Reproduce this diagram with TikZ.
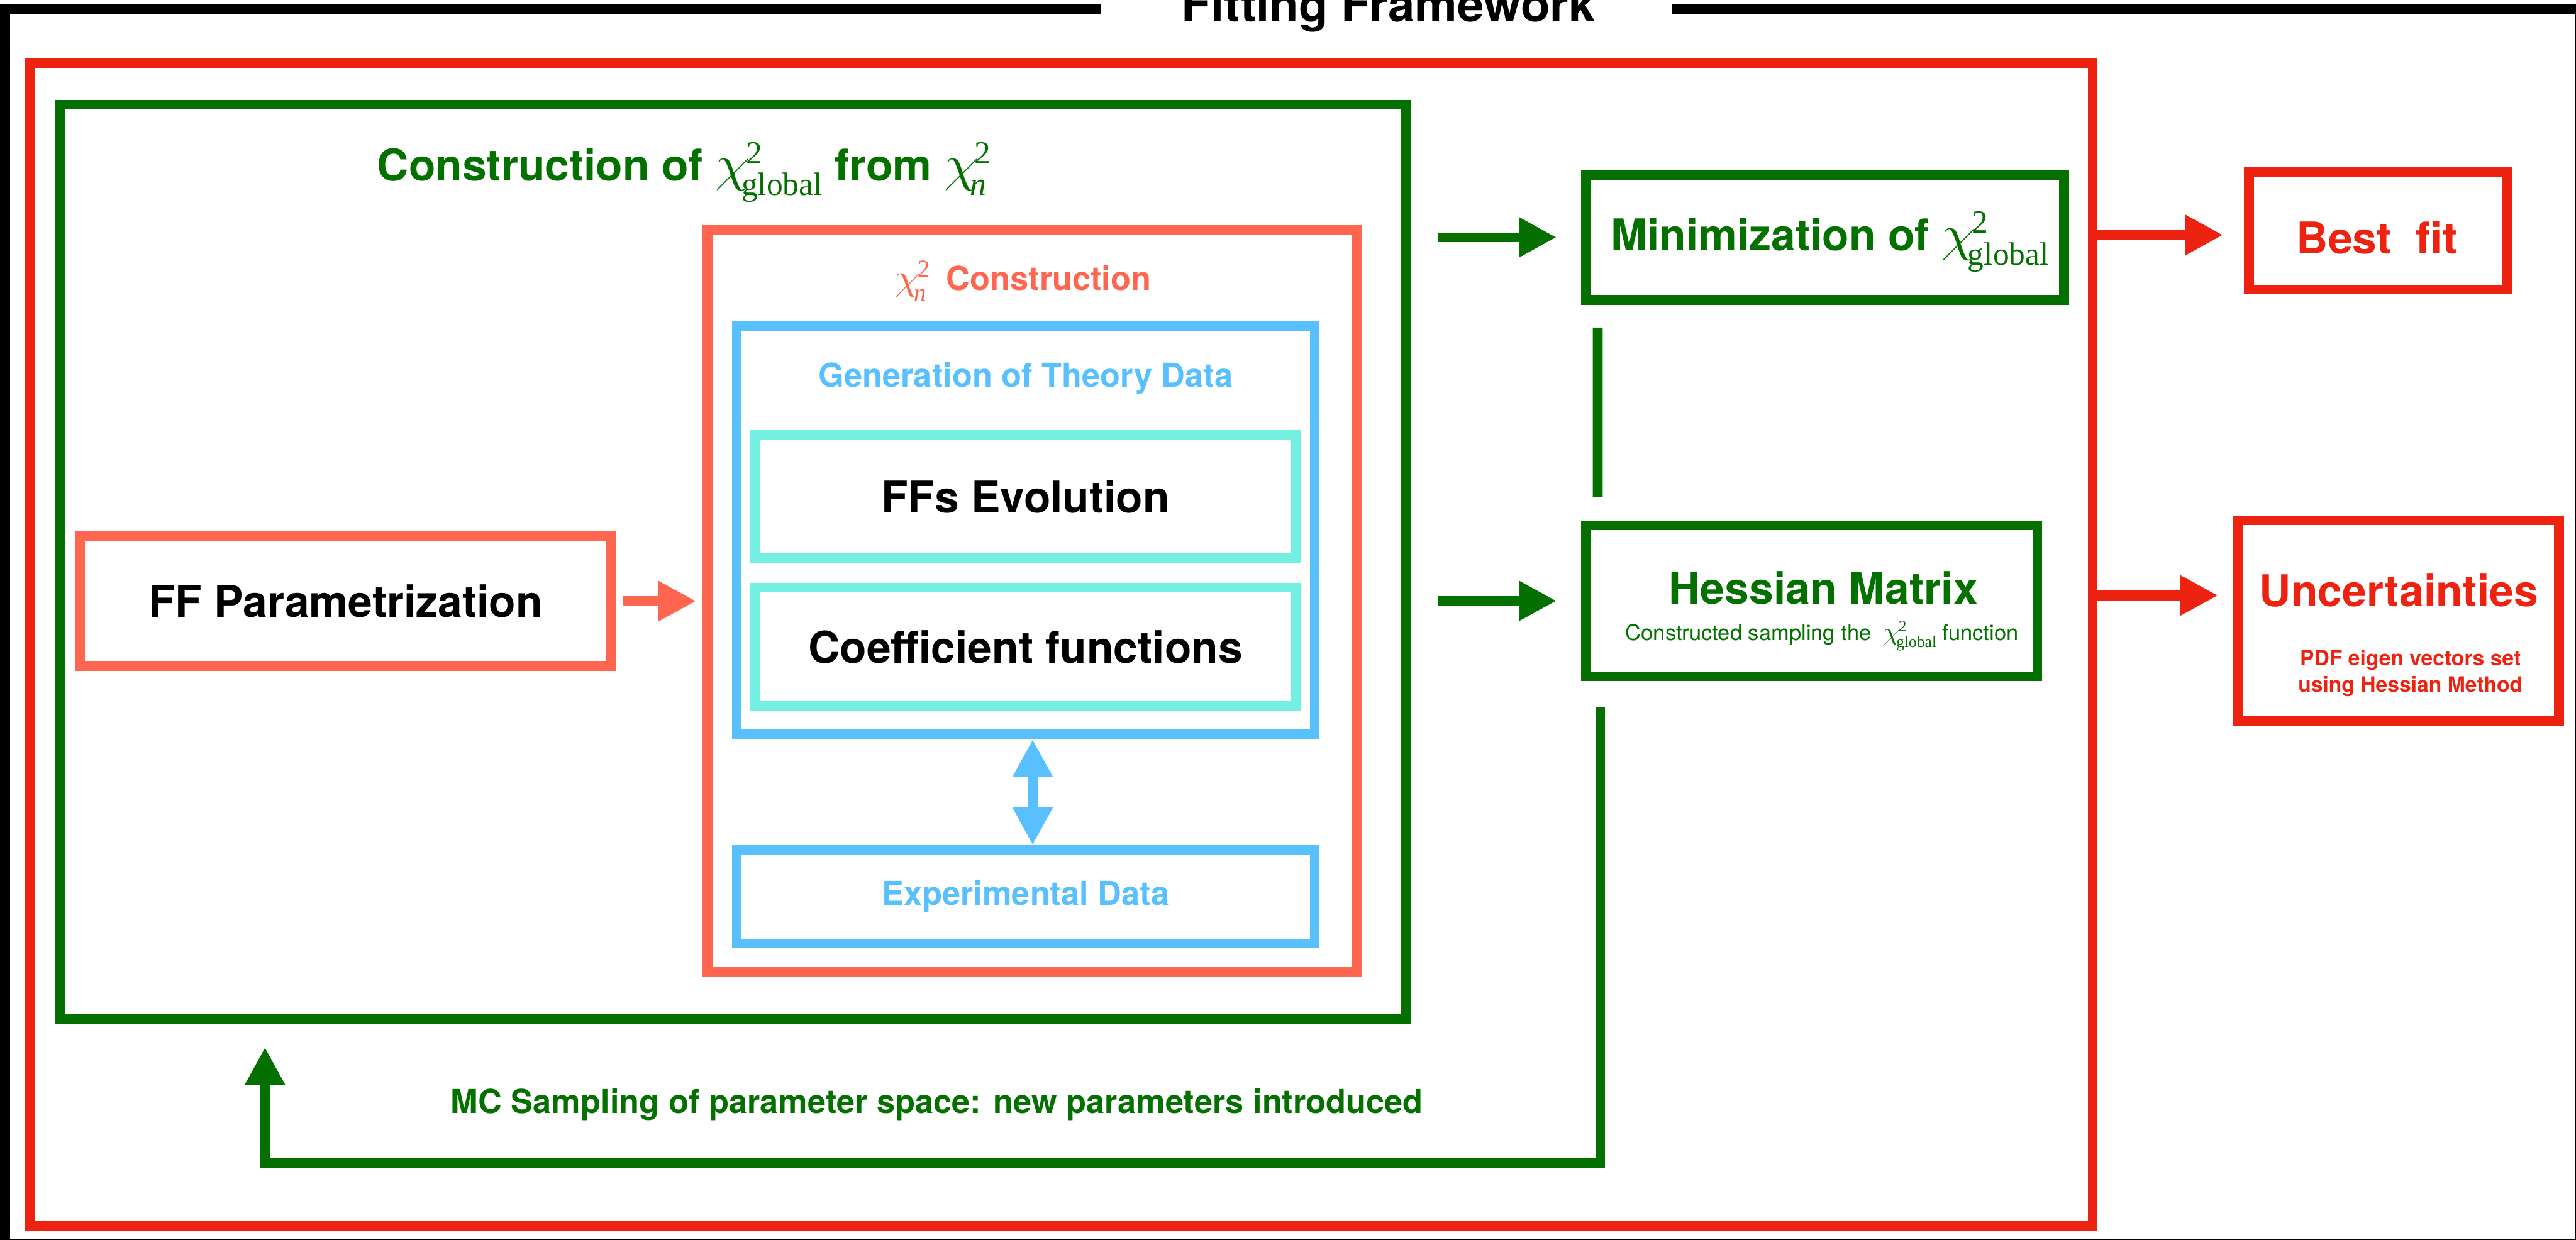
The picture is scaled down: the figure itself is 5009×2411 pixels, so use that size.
\RequirePackage{fix-cm}
\documentclass[tikz,border=0pt]{standalone}
\usepackage{fontspec}
\setmainfont{TeX Gyre Heros}
\newfontfamily\chifont{Liberation Serif}
\usetikzlibrary{arrows.meta,calc}

\definecolor{fwred}{RGB}{238,34,17}
\definecolor{fwgreen}{RGB}{4,112,0}
\definecolor{fwsalmon}{RGB}{255,102,80}
\definecolor{fwblue}{RGB}{88,192,255}
\definecolor{fwaqua}{RGB}{115,240,225}

\newcommand\ttlsz{\fontsize{26.5pt}{32pt}\selectfont}
\newcommand\bigsz{\fontsize{24.2pt}{29pt}\selectfont}
\newcommand\midsz{\fontsize{18.2pt}{22pt}\selectfont}
\newcommand\smsz{\fontsize{12pt}{14pt}\selectfont}
\newcommand\tinysz{\fontsize{11.7pt}{14pt}\selectfont}

% chi with a superscript and a subscript; indices set in a serif face
\newsavebox\chisupbox
\newsavebox\chisubbox
\makeatletter
\newcommand\chismall{\dimen@=\f@size pt\dimen@=0.74\dimen@
  \chifont\mdseries\upshape\fontsize{\strip@pt\dimen@}{\strip@pt\dimen@}\selectfont}
\makeatother
\newcommand\chiS[2]{%
  \rlap{\scalebox{1.3}[1.15]{$\chi$}}%
  \sbox\chisupbox{\chismall #1}%
  \sbox\chisubbox{\chismall #2}%
  \kern0.7em\rlap{\raisebox{0.4em}{\usebox\chisupbox}}%
  \kern-0.1em\rlap{\raisebox{-0.33em}{\usebox\chisubbox}}%
  \kern\ifdim\wd\chisupbox>\wd\chisubbox\dimexpr\wd\chisupbox+0.1em\relax\else\wd\chisubbox\fi
}

\begin{document}
\begin{tikzpicture}[x=0.01cm, y=-0.01cm,
  box/.style={draw, line width=5.4pt, inner sep=0pt, outer sep=0pt},
  lbl/.style={inner sep=0pt, outer sep=0pt, anchor=base},
  con/.style={line width=5.4pt},
  tip/.style={-{Triangle[length=20.8pt,width=20.8pt]}},
  dtip/.style={{Triangle[length=20.8pt,width=20.8pt]}-{Triangle[length=20.8pt,width=20.8pt]}},
]
\useasboundingbox (0,0) rectangle (5009,2411);
\fill[white] (0,0) rectangle (5009,2411);
\clip (0,0) rectangle (5009,2411);

% outer frame with its title
\draw[line width=5.4pt] (2140,18) -- (10,18) -- (10,2418) -- (5016,2418) -- (5016,18) -- (3252,18);
\node[lbl, font=\ttlsz\bfseries] (title) at (2700,42) {Fitting Framework};

% boxes
\node[box, draw=fwred, minimum width=40.08cm, minimum height=22.6cm] (fit) at (2064,1253) {};
\node[box, draw=fwgreen, minimum width=26.16cm, minimum height=17.78cm] (glob) at (1425,1093) {};
\node[box, draw=fwsalmon, minimum width=10.32cm, minimum height=2.52cm, font=\bigsz\bfseries] (ffp) at (672,1169) {FF Parametrization};
\node[box, draw=fwsalmon, minimum width=12.62cm, minimum height=14.42cm] (chin) at (2007,1169) {};
\node[box, draw=fwblue, minimum width=11.23cm, minimum height=7.93cm] (gen) at (1994.5,1031.5) {};
\node[box, draw=fwaqua, minimum width=10.52cm, minimum height=2.4cm, font=\bigsz\bfseries] (ffe) at (1994,966) {FFs Evolution};
\node[box, draw=fwaqua, minimum width=10.52cm, minimum height=2.3cm, font=\bigsz\bfseries] (coef) at (1994,1258) {Coefficient functions};
\node[box, draw=fwblue, minimum width=11.23cm, minimum height=1.82cm, text=fwblue, font=\midsz\bfseries] (exp) at (1994.5,1744) {Experimental Data};
\node[box, draw=fwgreen, minimum width=9.29cm, minimum height=2.43cm] (mini) at (3548.5,461.5) {};
\node[box, draw=fwgreen, minimum width=8.77cm, minimum height=2.93cm] (hess) at (3522.5,1168.5) {};
\node[box, draw=fwred, minimum width=5.02cm, minimum height=2.28cm] (best) at (4624,449) {};
\node[box, draw=fwred, minimum width=6.24cm, minimum height=3.9cm] (unc) at (4664,1207) {};

% box titles
\node[lbl, text=fwgreen, font=\bigsz\bfseries] (globttl) at (1326,352) {Construction of \chiS{2}{global} from \chiS{2}{\itshape n}};
\node[lbl, text=fwsalmon, font=\midsz\bfseries] (chinttl) at (1989,564) {\chiS{2}{\itshape n}\hspace{0.6em}Construction};
\node[lbl, text=fwblue, font=\midsz\bfseries] (genttl) at (1994.5,753) {Generation of Theory Data};
\node[lbl, text=fwgreen, font=\bigsz\bfseries] (minittl) at (3558,487) {Minimization of \chiS{2}{global}};
\node[lbl, text=fwred, font=\bigsz\bfseries] (bestttl) at (4622,494) {Best\ \ fit};
\node[lbl, text=fwgreen, font=\bigsz\bfseries] (hessttl) at (3545.5,1175) {Hessian Matrix};
\node[lbl, text=fwgreen, font=\smsz] (hesssub) at (3543,1245) {Constructed sampling the \ \chiS{2}{global} function};
\node[lbl, text=fwred, font=\bigsz\bfseries] (uncttl) at (4664.5,1180) {Uncertainties};
\node[lbl, text=fwred, font=\tinysz\bfseries] (uncsub1) at (4687,1294) {PDF eigen vectors set};
\node[lbl, text=fwred, font=\tinysz\bfseries] (uncsub2) at (4687,1346) {using Hessian Method};
\node[lbl, text=fwgreen, font=\midsz\bfseries] (mcttl) at (1822,2165) {MC Sampling of parameter space: new parameters introduced};

% connectors
\draw[con, fwsalmon, tip, shorten <=0.22cm, shorten >=0.22cm] (ffp.east) -- (chin.west);
\draw[con, fwblue, dtip, shorten <=0.095cm, shorten >=0.095cm] ($(gen.south)+(13.5,0)$) -- ($(exp.north)+(13.5,0)$);
\draw[con, fwgreen, tip, shorten <=0.62cm, shorten >=0.57cm] (mini.west -| glob.east) -- (mini.west);
\draw[con, fwgreen, tip, shorten <=0.62cm, shorten >=0.57cm] (hess.west -| glob.east) -- (hess.west);
\draw[con, fwgreen, shorten <=0.54cm, shorten >=0.55cm] ($(mini.south west)+(23,0)$) -- ($(hess.north west)+(23,0)$);
\coordinate (fb) at ($(glob.south west)+(399,54)$);
\draw[con, fwgreen, tip] ($(hess.south west)+(28,60)$) -- ++(0,887) -| (fb);
\coordinate (ra) at (4068,457);
\coordinate (ua) at (4068,1158);
\draw[con, fwred, tip, shorten >=0.5cm] (fit.east |- ra) -- (best.west |- ra);
\draw[con, fwred, tip, shorten >=0.39cm] (fit.east |- ua) -- (unc.west |- ua);
\end{tikzpicture}
\end{document}
